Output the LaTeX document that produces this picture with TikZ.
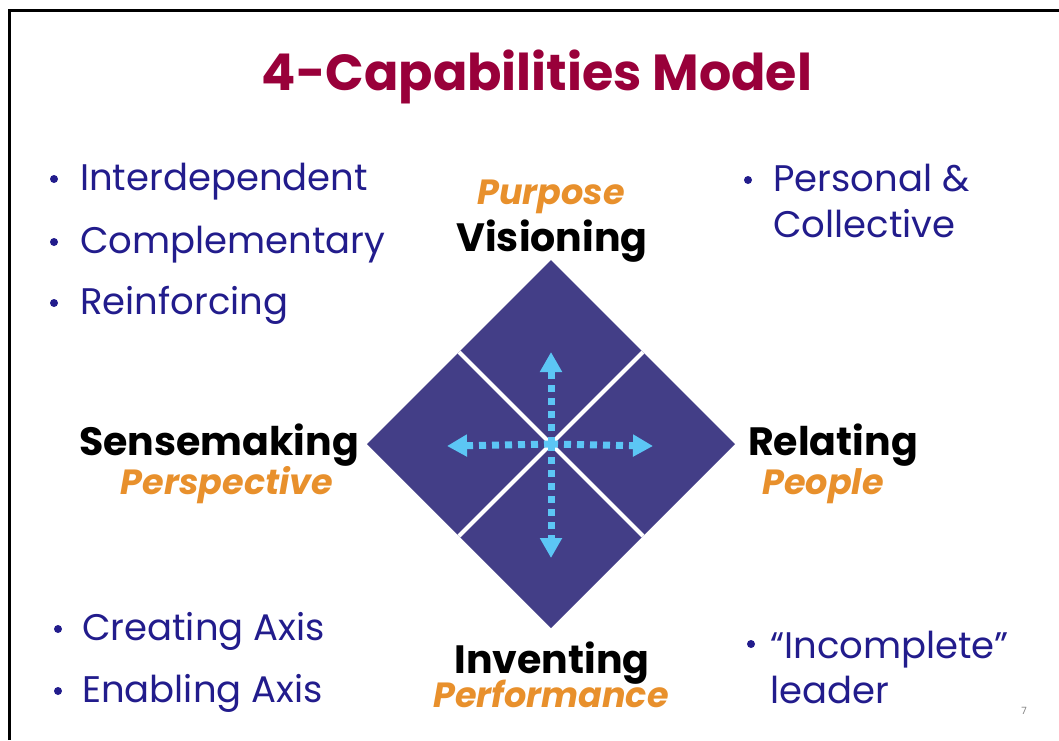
\documentclass[tikz,border=0pt]{standalone}
\usepackage{fontspec}
\setmainfont{Poppins}
\usepackage{tikz}
\usetikzlibrary{arrows.meta}
\definecolor{titlered}{HTML}{99003A}
\definecolor{bulletblue}{HTML}{221C8C}
\definecolor{accentorange}{HTML}{E8902C}
\definecolor{diamondblue}{HTML}{433E87}
\definecolor{arrowcyan}{HTML}{5CC6F5}
\tikzset{
  bullettext/.style={anchor=base west,inner sep=0pt,text=bulletblue,font=\fontsize{37}{40}\selectfont},
  capname/.style={anchor=base,inner sep=0pt,text=black,font=\fontsize{39.5}{42}\selectfont\bfseries},
  aspect/.style={anchor=base,inner sep=0pt,text=accentorange,font=\fontsize{35}{38}\selectfont\bfseries\itshape},
  dotarrow/.style={arrowcyan,line width=7pt,dash pattern=on 7pt off 6pt,
    -{Triangle[width=21pt,length=20pt]}}
}
\begin{document}
\begin{tikzpicture}[x=1pt,y=-1pt]
\useasboundingbox (0,0) rectangle (1059,740);
% slide frame
\draw[line width=3pt] (9.5,740) -- (9.5,10.5) -- (1059,10.5);
% title
\node[anchor=base,inner sep=0pt,text=titlered,font=\fontsize{50.7}{54}\selectfont\bfseries] (title) at (537,90) {4-Capabilities Model};
% diamond of four parts
\coordinate (mid) at (551,444);
\fill[diamondblue] (551,260) -- (735,444) -- (551,628) -- (367,444) -- cycle;
\draw[white,line width=4pt] (459,352) -- (643,536);
\draw[white,line width=4pt] (643,352) -- (459,536);
\coordinate (up) at (551,352);
\coordinate (down) at (551,558);
\coordinate (left) at (447,446);
\coordinate (right) at (653,446);
\foreach \d in {up,down,left,right}
  \draw[dotarrow] (mid) -- (\d);
% capability names
\node[aspect] (purpose) at (551,204) {Purpose};
\node[capname] (visioning) at (552,251) {Visioning};
\node[capname] (sensemaking) at (219,455) {Sensemaking};
\node[aspect] (perspective) at (227,494) {Perspective};
\node[capname] (relating) at (833,455) {Relating};
\node[aspect] (people) at (823,494) {People};
\node[capname] (inventing) at (552,673) {Inventing};
\node[aspect] (performance) at (551,707) {Performance};
% bullet lists
\foreach \y/\t [count=\i] in {190/Interdependent,253/Complementary,314/Reinforcing}
  \node[bullettext] (lb\i) at (80,\y) {\t};
\foreach \i in {1,2,3}
  \fill[bulletblue] ([xshift=-26pt,yshift=11pt]lb\i.base west) circle (4pt);
\node[bullettext] (rt1) at (773,191) {Personal \&};
\node[bullettext] (rt2) at (773,237) {Collective};
\fill[bulletblue] ([xshift=-25pt,yshift=11pt]rt1.base west) circle (4pt);
\node[bullettext] (lt1) at (82,640) {Creating Axis};
\node[bullettext] (lt2) at (82,702) {Enabling Axis};
\foreach \n in {lt1,lt2}
  \fill[bulletblue] ([xshift=-24pt,yshift=11pt]\n.base west) circle (4pt);
\node[bullettext] (rb1) at (770,658) {``Incomplete''};
\node[bullettext] (rb2) at (770,703) {leader};
\fill[bulletblue] ([xshift=-19pt,yshift=14pt]rb1.base west) circle (4pt);
% slide number
\node[anchor=base,inner sep=0pt,text=gray,font=\fontsize{10}{12}\selectfont] (pagenum) at (1024,714) {7};
\end{tikzpicture}
\end{document}
